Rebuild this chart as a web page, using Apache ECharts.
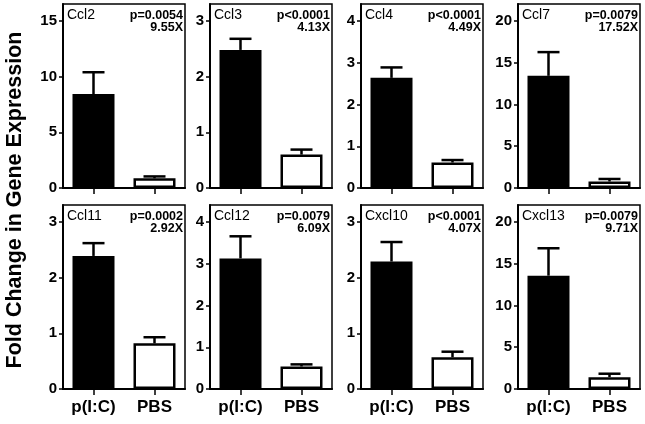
<!DOCTYPE html>
<html>
<head>
<meta charset="utf-8">
<script src="https://cdn.jsdelivr.net/npm/echarts@6/dist/echarts.min.js"></script>
<style>
html,body{margin:0;padding:0;background:#fff;}
#c{width:645px;height:424px;}
</style>
</head>
<body>
<div id="c"></div>
<script>
// ---- data ----
var categories = ['p(I:C)', 'PBS'];
var genes = ['Ccl2', 'Ccl3', 'Ccl4', 'Ccl7', 'Ccl11', 'Ccl12', 'Cxcl10', 'Cxcl13'];
var pValues = ['p=0.0054', 'p<0.0001', 'p<0.0001', 'p=0.0079', 'p=0.0002', 'p=0.0079', 'p<0.0001', 'p=0.0079'];
var foldChanges = ['9.55X', '4.13X', '4.49X', '17.52X', '2.92X', '6.09X', '4.07X', '9.71X'];
var picMean = [8.44, 2.48, 2.64, 13.43, 2.39, 3.13, 2.29, 13.57];
var picSem  = [1.96, 0.20, 0.25, 2.84, 0.23, 0.53, 0.35, 3.28];
var pbsMean = [0.87, 0.60, 0.61, 0.78, 0.82, 0.54, 0.57, 1.42];
var pbsSem  = [0.17, 0.09, 0.06, 0.30, 0.11, 0.05, 0.10, 0.41];
var yMax = [16.53, 3.305, 4.41, 22.03, 3.305, 4.41, 3.305, 22.03];
var yTicks = [
  [0, 5, 10, 15], [0, 1, 2, 3], [0, 1, 2, 3, 4], [0, 5, 10, 15, 20],
  [0, 1, 2, 3], [0, 1, 2, 3, 4], [0, 1, 2, 3], [0, 5, 10, 15, 20]
];
var yTitle = 'Fold Change in Gene Expression';

// ---- layout ----
var FONT = '"Liberation Sans", Arial, Helvetica, sans-serif';
var gridLefts = [63, 210, 361, 518];
var gridTops = [4, 205];
var gridW = 122, gridH = 184;

var chart = echarts.init(document.getElementById('c'), null, {renderer: 'canvas'});

var grids = [], xAxes = [], yAxes = [], series = [], graphics = [];

genes.forEach(function (g, i) {
  var row = Math.floor(i / 4), col = i % 4;
  var left = gridLefts[col], top = gridTops[row];
  grids.push({
    left: left, top: top, width: gridW, height: gridH,
    show: true, borderColor: '#000', borderWidth: 1.5,
    containLabel: false, outerBoundsMode: 'none'
  });
  xAxes.push({
    type: 'category', gridIndex: i, data: categories,
    axisLine: {lineStyle: {color: '#000', width: 2}},
    axisTick: {show: true, alignWithLabel: true, length: 6, lineStyle: {color: '#000', width: 1.5}},
    axisLabel: {
      show: row === 1, color: '#000', fontFamily: FONT, fontWeight: 'bold',
      fontSize: 17, margin: 10, interval: 0
    },
    splitLine: {show: false}
  });
  yAxes.push({
    type: 'value', gridIndex: i, min: 0, max: yMax[i],
    axisLine: {show: true, lineStyle: {color: '#000', width: 2}},
    axisTick: {show: true, length: 4, lineStyle: {color: '#000', width: 1.5}, customValues: yTicks[i]},
    axisLabel: {
      color: '#000', fontFamily: FONT, fontWeight: 'bold', fontSize: 15, margin: 6,
      customValues: yTicks[i]
    },
    splitLine: {show: false}
  });
  series.push({
    type: 'bar', xAxisIndex: i, yAxisIndex: i,
    barWidth: 42,
    data: [
      {value: picMean[i], itemStyle: {color: '#000', borderColor: '#000', borderWidth: 2.5}},
      {value: pbsMean[i], itemStyle: {color: '#fff', borderColor: '#000', borderWidth: 2.5}}
    ],
    animation: false, silent: true
  });
  series.push({
    type: 'custom', xAxisIndex: i, yAxisIndex: i,
    data: [[0, picMean[i], picMean[i] + picSem[i]], [1, pbsMean[i], pbsMean[i] + pbsSem[i]]],
    encode: {x: 0, y: [1, 2]},
    renderItem: function (params, api) {
      var x = api.value(0);
      var p0 = api.coord([x, api.value(1)]);
      var p1 = api.coord([x, api.value(2)]);
      var hw = 11;
      var st = {stroke: '#000', lineWidth: 2.5};
      return {
        type: 'group',
        children: [
          {type: 'line', shape: {x1: p0[0], y1: p0[1], x2: p1[0], y2: p1[1]}, style: st},
          {type: 'line', shape: {x1: p1[0] - hw, y1: p1[1], x2: p1[0] + hw, y2: p1[1]}, style: st}
        ]
      };
    },
    z: 3, animation: false, silent: true
  });
  graphics.push({
    type: 'text', left: left + 4, top: top + 4,
    style: {text: g, fill: '#000', font: 'normal 14px ' + FONT}
  });
  graphics.push({
    type: 'text', x: left + gridW - 2, y: top + 11.5,
    style: {text: pValues[i], fill: '#000', font: 'bold 12.5px ' + FONT, textAlign: 'right', textVerticalAlign: 'middle'}
  });
  graphics.push({
    type: 'text', x: left + gridW - 2, y: top + 24,
    style: {text: foldChanges[i], fill: '#000', font: 'bold 12.5px ' + FONT, textAlign: 'right', textVerticalAlign: 'middle'}
  });
});

graphics.push({
  type: 'text', x: 15, y: 200, rotation: Math.PI / 2,
  style: {text: yTitle, fill: '#000', font: 'bold 21.5px ' + FONT, textAlign: 'center', textVerticalAlign: 'middle'}
});

chart.setOption({
  animation: false,
  backgroundColor: '#fff',
  grid: grids,
  xAxis: xAxes,
  yAxis: yAxes,
  series: series,
  graphic: graphics
});
</script>
</body>
</html>
